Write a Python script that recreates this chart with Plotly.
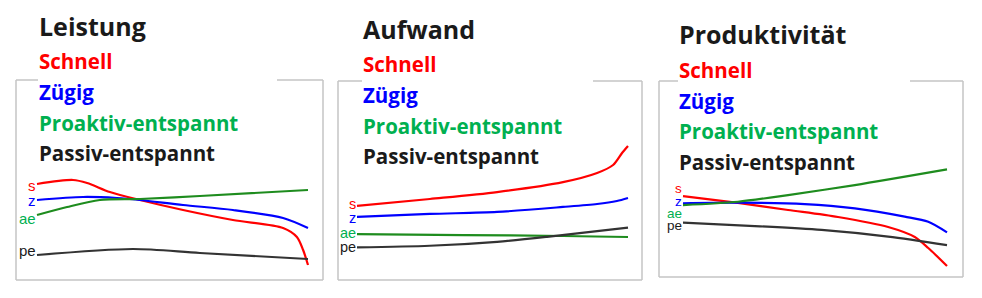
import plotly.graph_objects as go

W, H = 982, 298

# ---------------- data (arbitrary 0-100 scale) ----------------
titles = ["Leistung", "Aufwand", "Produktivität"]
legend_names = ["Schnell", "Zügig", "Proaktiv-entspannt", "Passiv-entspannt"]
short_labels = ["s", "z", "ae", "pe"]

# Panel 1: Leistung
p1_s_x = [0, 13.3, 18.5, 26.9, 38, 53.9, 72.3, 90.8, 95.9, 98.2, 100]
p1_s_y = [48, 50, 48.5, 44, 40, 35, 30, 26, 21.5, 15, 7.5]
p1_z_x = [0, 17, 29.5, 38, 53.9, 72.3, 90.8, 100]
p1_z_y = [40, 41.5, 41, 40, 37.5, 35, 31, 26]
p1_ae_x = [0, 11.1, 23.2, 38, 60.1, 100]
p1_ae_y = [32.5, 36.5, 40, 40.5, 42, 45]
p1_pe_x = [0, 35.4, 60.1, 100]
p1_pe_y = [12.5, 15.5, 13.5, 10.5]

# Panel 2: Aufwand
p2_s_x = [0, 26.9, 51.7, 76, 88.6, 94.5, 97.8, 100]
p2_s_y = [37.2, 40.7, 44.2, 49.2, 53.8, 57.8, 63.8, 67.3]
p2_z_x = [0, 26.9, 51.7, 76, 88.6, 95.9, 100]
p2_z_y = [31.7, 33.2, 34.2, 36.7, 38.2, 39.7, 41.2]
p2_ae_x = [0, 39.1, 76, 100]
p2_ae_y = [23.1, 22.6, 22.1, 21.6]
p2_pe_x = [0, 26.9, 51.7, 70.1, 88.6, 100]
p2_pe_y = [16.4, 17.2, 19.2, 21.7, 24.6, 26.3]

# Panel 3: Produktivität
p3_s_x = [0, 20.8, 39.8, 58.7, 77.7, 87.8, 92.9, 100]
p3_s_y = [41.3, 37.8, 34.2, 30.6, 25.5, 20.4, 14.8, 5.6]
p3_z_x = [0, 20.8, 46.1, 65.1, 84, 92.9, 100]
p3_z_y = [37.6, 37.9, 37.2, 35, 30.8, 28.2, 22.8]
p3_ae_x = [0, 20.8, 39.8, 65.1, 100]
p3_ae_y = [36.7, 38.4, 41.8, 46.9, 54.9]
p3_pe_x = [0, 27.2, 52.5, 77.7, 100]
p3_pe_y = [27.7, 26, 24, 20.6, 16.3]

series = [
    [(p1_s_x, p1_s_y), (p1_z_x, p1_z_y), (p1_ae_x, p1_ae_y), (p1_pe_x, p1_pe_y)],
    [(p2_s_x, p2_s_y), (p2_z_x, p2_z_y), (p2_ae_x, p2_ae_y), (p2_pe_x, p2_pe_y)],
    [(p3_s_x, p3_s_y), (p3_z_x, p3_z_y), (p3_ae_x, p3_ae_y), (p3_pe_x, p3_pe_y)],
]

# ---------------- layout (pixel geometry) ----------------
line_colors = ["#ff0000", "#0000ff", "#1e8c1e", "#333333"]
text_colors = ["#ff0000", "#0000ff", "#00b050", "#1a1a1a"]

boxes = [
    dict(x0=16, x1=323, yt=80, yb=280, ls=37, le=308, g0=38, g1=277,
         title_y=26, leg_y=[61, 92, 123, 153], lab_y=[185, 200, 218, 251], tx=37,
         lab_size=15),
    dict(x0=338, x1=642, yt=81, yb=280, ls=357, le=628, g0=362, g1=593,
         title_y=29, leg_y=[63.5, 95, 126, 156], lab_y=[204, 218, 233, 247], tx=361,
         lab_size=14.5),
    dict(x0=659, x1=963, yt=81, yb=277, ls=683, le=947, g0=678, g1=910,
         title_y=34, leg_y=[70, 101, 131, 162], lab_y=[188, 201, 213, 225], tx=677,
         lab_size=13.5),
]

def px(x):
    return x / W

def py(y):
    return 1 - y / H

fig = go.Figure()
shapes = []
annotations = []
border = dict(color="#c4c4c4", width=1.5)

for i, b in enumerate(boxes):
    ax = "" if i == 0 else str(i + 1)
    scale = (b["le"] - b["ls"]) / 100.0
    xr = [-(b["ls"] - b["x0"]) / scale, 100 + (b["x1"] - b["le"]) / scale]
    fig.layout["xaxis" + ax] = dict(domain=[px(b["x0"]), px(b["x1"])], range=xr,
                                    visible=False, fixedrange=True,
                                    anchor="y" + ax)
    fig.layout["yaxis" + ax] = dict(domain=[py(b["yb"]), py(b["yt"])], range=[0, 100],
                                    visible=False, fixedrange=True,
                                    anchor="x" + ax)
    for k, (xs, ys) in enumerate(series[i]):
        fig.add_trace(go.Scatter(x=xs, y=ys, mode="lines",
                                 line=dict(color=line_colors[k], width=2.2,
                                           shape="spline", smoothing=0.8),
                                 xaxis="x" + ax, yaxis="y" + ax,
                                 showlegend=False, hoverinfo="skip"))
    for (xa, ya, xb, yb) in [
        (b["x0"], b["yt"], b["g0"], b["yt"]),
        (b["g1"], b["yt"], b["x1"], b["yt"]),
        (b["x1"], b["yt"], b["x1"], b["yb"]),
        (b["x1"], b["yb"], b["x0"], b["yb"]),
        (b["x0"], b["yb"], b["x0"], b["yt"]),
    ]:
        shapes.append(dict(type="line", xref="paper", yref="paper",
                           x0=px(xa), y0=py(ya), x1=px(xb), y1=py(yb), line=border))
    annotations.append(dict(text=titles[i], xref="paper", yref="paper",
                            x=px(b["tx"]), y=py(b["title_y"]), xanchor="left",
                            yanchor="middle", showarrow=False,
                            font=dict(family="Open Sans", size=25, color="#1a1a1a",
                                      weight="bold")))
    for k, name in enumerate(legend_names):
        annotations.append(dict(text=name, xref="paper", yref="paper",
                                x=px(b["tx"]), y=py(b["leg_y"][k]), xanchor="left",
                                yanchor="middle", showarrow=False,
                                font=dict(family="Open Sans", size=20.5, color=text_colors[k],
                                          weight="bold")))
    for k, lab in enumerate(short_labels):
        annotations.append(dict(text=lab, xref="paper", yref="paper",
                                x=px(b["ls"] + 1), y=py(b["lab_y"][k]), xanchor="right",
                                yanchor="middle", showarrow=False,
                                font=dict(family="Liberation Sans", size=b["lab_size"],
                                          color=text_colors[k])))

fig.update_layout(width=W, height=H, margin=dict(l=0, r=0, t=0, b=0),
                  paper_bgcolor="white", plot_bgcolor="white",
                  shapes=shapes, annotations=annotations)

fig.write_html("out.html")
